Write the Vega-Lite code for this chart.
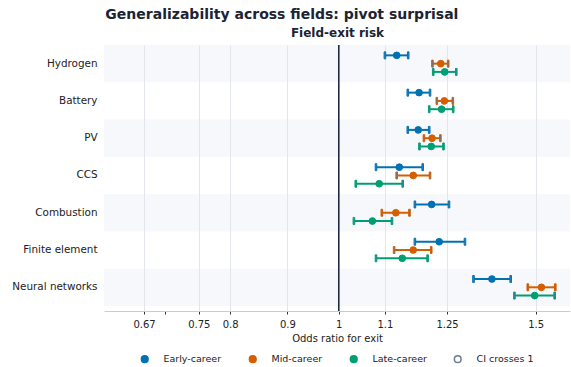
{
  "$schema": "https://vega.github.io/schema/vega-lite/v6.json",
  "width": 571,
  "height": 367,
  "autosize": {"type": "fit", "contains": "padding"},
  "padding": {"left": 11, "right": 1, "top": 8, "bottom": 1},
  "background": "white",
  "title": {
    "text": "Generalizability across fields: pivot surprisal",
    "fontSize": 14,
    "fontWeight": "bold",
    "color": "#1c2333",
    "anchor": "middle",
    "frame": "bounds",
    "offset": 4,
    "dx": -9
  },
  "config": {
    "font": "DejaVu Sans",
    "view": {"stroke": null},
    "axisY": {
      "title": null,
      "ticks": false,
      "domain": false,
      "grid": false,
      "labelFontSize": 10.4,
      "labelColor": "#222222",
      "labelPadding": 7
    },
    "axisBottom": {
      "domainColor": "#c3ccd9",
      "domainWidth": 1,
      "tickColor": "#333333",
      "tickSize": 3,
      "labelFontSize": 10,
      "labelColor": "#222222",
      "labelPadding": 5,
      "titleFontSize": 10,
      "titleFontWeight": "normal",
      "titleColor": "#222222",
      "titlePadding": 4
    },
    "legend": {
      "orient": "bottom",
      "direction": "horizontal",
      "title": null,
      "labelFontSize": 9.5,
      "labelColor": "#222222",
      "symbolSize": 45,
      "symbolStrokeWidth": 1.5,
      "symbolOpacity": 1,
      "columnPadding": 24,
      "labelOffset": 14,
      "gridAlign": "each",
      "offset": 11,
      "layout": {"bottom": {"anchor": "middle"}}
    }
  },
  "datasets": {
    "fields": [
      {"field": "Hydrogen"},
      {"field": "Battery"},
      {"field": "PV"},
      {"field": "CCS"},
      {"field": "Combustion"},
      {"field": "Finite element"},
      {"field": "Neural networks"}
    ],
    "est": [
      {"field": "Hydrogen", "cohort": "Early-career", "or": 1.127, "lo": 1.100, "hi": 1.154},
      {"field": "Hydrogen", "cohort": "Mid-career", "or": 1.234, "lo": 1.213, "hi": 1.253},
      {"field": "Hydrogen", "cohort": "Late-career", "or": 1.244, "lo": 1.215, "hi": 1.274},
      {"field": "Battery", "cohort": "Early-career", "or": 1.180, "lo": 1.153, "hi": 1.207},
      {"field": "Battery", "cohort": "Mid-career", "or": 1.243, "lo": 1.224, "hi": 1.265},
      {"field": "Battery", "cohort": "Late-career", "or": 1.236, "lo": 1.205, "hi": 1.266},
      {"field": "PV", "cohort": "Early-career", "or": 1.178, "lo": 1.153, "hi": 1.205},
      {"field": "PV", "cohort": "Mid-career", "or": 1.212, "lo": 1.192, "hi": 1.233},
      {"field": "PV", "cohort": "Late-career", "or": 1.210, "lo": 1.181, "hi": 1.241},
      {"field": "CCS", "cohort": "Early-career", "or": 1.133, "lo": 1.080, "hi": 1.189},
      {"field": "CCS", "cohort": "Mid-career", "or": 1.166, "lo": 1.127, "hi": 1.207},
      {"field": "CCS", "cohort": "Late-career", "or": 1.087, "lo": 1.036, "hi": 1.141},
      {"field": "Combustion", "cohort": "Early-career", "or": 1.211, "lo": 1.170, "hi": 1.255},
      {"field": "Combustion", "cohort": "Mid-career", "or": 1.125, "lo": 1.093, "hi": 1.157},
      {"field": "Combustion", "cohort": "Late-career", "or": 1.072, "lo": 1.032, "hi": 1.116},
      {"field": "Finite element", "cohort": "Early-career", "or": 1.230, "lo": 1.170, "hi": 1.297},
      {"field": "Finite element", "cohort": "Mid-career", "or": 1.166, "lo": 1.121, "hi": 1.210},
      {"field": "Finite element", "cohort": "Late-career", "or": 1.140, "lo": 1.080, "hi": 1.201},
      {"field": "Neural networks", "cohort": "Early-career", "or": 1.371, "lo": 1.320, "hi": 1.425},
      {"field": "Neural networks", "cohort": "Mid-career", "or": 1.518, "lo": 1.476, "hi": 1.562},
      {"field": "Neural networks", "cohort": "Late-career", "or": 1.497, "lo": 1.436, "hi": 1.560}
    ]
  },
  "resolve": {"axis": {"x": "independent"}},
  "layer": [
    {
      "data": {"name": "fields"},
      "transform": [{"filter": {"field": "field", "oneOf": ["Hydrogen", "PV", "Combustion", "Neural networks"]}}],
      "mark": {"type": "rect", "color": "#dde4ee", "opacity": 0.25},
      "encoding": {
        "y": {
          "field": "field",
          "type": "nominal",
          "title": null,
          "scale": {"domain": ["Hydrogen", "Battery", "PV", "CCS", "Combustion", "Finite element", "Neural networks"], "paddingInner": 0, "paddingOuter": 0.068, "align": 0}
        }
      }
    },
    {
      "data": {"name": "fields"},
      "mark": {"type": "rule", "color": "#1f2940", "strokeWidth": 1},
      "encoding": {
        "x": {
          "datum": 1,
          "type": "quantitative",
          "scale": {"type": "log", "domain": [0.617, 1.61], "nice": false, "zero": false},
          "axis": {"orient": "top", "title": "Field-exit risk", "titleFontSize": 12, "titleFontWeight": "bold", "titleColor": "#1c2333", "titlePadding": 6, "labels": false, "ticks": false, "domain": false, "grid": false}
        }
      }
    },
    {
      "data": {"name": "est"},
      "mark": {"type": "rule", "strokeWidth": 2},
      "encoding": {
        "y": {"field": "field", "type": "nominal", "title": null},
        "yOffset": {"field": "cohort", "type": "nominal", "scale": {"domain": ["Early-career", "Mid-career", "Late-career"], "paddingInner": 0, "paddingOuter": 0.75}},
        "x": {"field": "lo", "type": "quantitative", "axis": null},
        "x2": {"field": "hi"},
        "stroke": {"field": "cohort", "type": "nominal", "title": null, "scale": {"domain": ["Early-career", "Mid-career", "Late-career", "CI crosses 1"], "range": ["#0072B2", "#D55E00", "#009E73", "#6b7a90"]}}
      }
    },
    {
      "data": {"name": "est"},
      "mark": {"type": "tick", "size": 7, "thickness": 1.6, "orient": "vertical", "opacity": 1},
      "encoding": {
        "y": {"field": "field", "type": "nominal", "title": null},
        "yOffset": {"field": "cohort", "type": "nominal"},
        "x": {"field": "lo", "type": "quantitative", "axis": null},
        "stroke": {"field": "cohort", "type": "nominal", "title": null}
      }
    },
    {
      "data": {"name": "est"},
      "mark": {"type": "tick", "size": 7, "thickness": 1.6, "orient": "vertical", "opacity": 1},
      "encoding": {
        "y": {"field": "field", "type": "nominal", "title": null},
        "yOffset": {"field": "cohort", "type": "nominal"},
        "x": {"field": "hi", "type": "quantitative", "axis": null},
        "stroke": {"field": "cohort", "type": "nominal", "title": null}
      }
    },
    {
      "data": {"name": "est"},
      "mark": {"type": "circle", "size": 45, "opacity": 1, "fillOpacity": 1, "strokeWidth": 1},
      "encoding": {
        "y": {"field": "field", "type": "nominal", "title": null},
        "yOffset": {"field": "cohort", "type": "nominal"},
        "x": {
          "field": "or",
          "type": "quantitative",
          "axis": {
            "orient": "bottom",
            "title": "Odds ratio for exit",
            "values": [0.67, 0.7, 0.75, 0.8, 0.9, 1, 1.1, 1.25, 1.5],
            "labelExpr": "datum.value == 0.7 ? '' : '' + datum.value",
            "grid": true,
            "gridColor": "#e3e6eb",
            "gridWidth": 1,
            "gridOpacity": {"condition": {"test": "datum.value == 0.7 || datum.value == 1", "value": 0}, "value": 1}
          }
        },
        "fill": {"field": "cohort", "type": "nominal", "title": null, "scale": {"domain": ["Early-career", "Mid-career", "Late-career", "CI crosses 1"], "range": ["#0072B2", "#D55E00", "#009E73", "#ffffff"]}},
        "stroke": {"field": "cohort", "type": "nominal", "title": null}
      }
    }
  ]
}
